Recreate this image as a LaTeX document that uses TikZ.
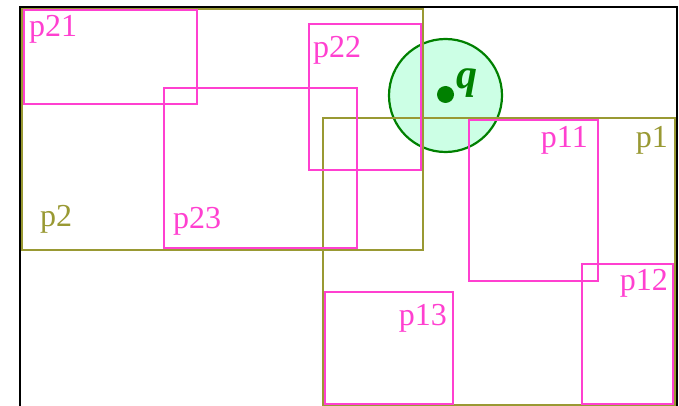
\documentclass[tikz,border=0pt]{standalone}
\usepackage{fontspec}
\setmainfont{Liberation Serif}
\usepackage{xcolor}
\usetikzlibrary{positioning}

\definecolor{rtpink}{RGB}{255,64,208}
\definecolor{rtolive}{RGB}{153,153,51}
\definecolor{qgreen}{RGB}{0,128,0}
\definecolor{qfill}{RGB}{204,255,229}

\begin{document}
\begin{tikzpicture}[
    x=1pt, y=-1pt,
    outer/.style={draw=rtolive, line width=2.2pt},
    entry/.style={draw=rtpink, line width=2.2pt},
    olivelbl/.style={text=rtolive, inner sep=0pt, font=\fontsize{32}{36}\selectfont},
    pinklbl/.style={text=rtpink, inner sep=0pt, font=\fontsize{32}{36}\selectfont},
    query/.style={circle, draw=qgreen, fill=qfill, line width=2.2pt, minimum size=113pt, inner sep=0pt}
]
    \useasboundingbox (0,0) rectangle (679,406);
    \draw [line width=2.6pt] (20,7) rectangle (677,430);

    % query circle
    \node [query] (qc) at (445.5,95.5) {};

    % level-2 boxes
    \draw [outer] (22,9) rectangle (423,250);
    \draw [outer] (323,118) rectangle (675,405);

    % leaf boxes
    \draw [entry] (24,10) rectangle (197,104);
    \draw [entry] (309,24) rectangle (421,170);
    \draw [entry] (164,88) rectangle (357,248);
    \draw [entry] (469,120) rectangle (598,281);
    \draw [entry] (582,264) rectangle (673,404);
    \draw [entry] (325,292) rectangle (453,404);

    % query point
    \node [circle, fill=qgreen, minimum size=17pt, inner sep=0pt] (qp) at (445.5,94.5) {};
    \node [text=qgreen, inner sep=0pt, anchor=base west, font=\fontsize{42}{46}\selectfont\bfseries\itshape] (ql) at (456,89) {q};

    % labels
    \node [olivelbl, anchor=base west] (l2) at (40,226) {p2};
    \node [olivelbl, anchor=base east] (l1) at (668,148) {p1};
    \node [pinklbl, anchor=base west] (l21) at (29,37) {p21};
    \node [pinklbl, anchor=base west] (l22) at (313,58) {p22};
    \node [pinklbl, anchor=base west] (l23) at (173,228) {p23};
    \node [pinklbl, anchor=base east] (l11) at (588,148) {p11};
    \node [pinklbl, anchor=base east] (l12) at (668,290) {p12};
    \node [pinklbl, anchor=base east] (l13) at (447,325) {p13};
\end{tikzpicture}
\end{document}
